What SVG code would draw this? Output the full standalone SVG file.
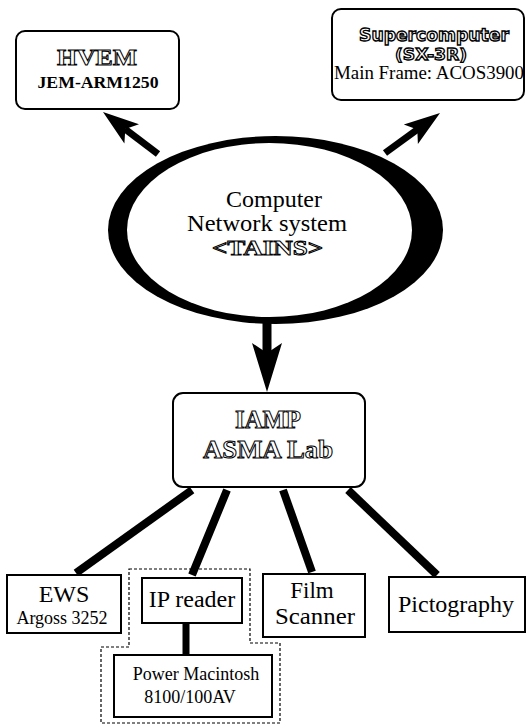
<svg xmlns="http://www.w3.org/2000/svg" width="527" height="724" viewBox="0 0 527 724">
<style>
.box{fill:#fff;stroke:#000;stroke-width:2}
.t{font-family:"Liberation Serif","Times New Roman",serif;fill:#000;text-anchor:middle}
.ol{font-family:"Liberation Serif","Times New Roman",serif;font-weight:bold;fill:#fff;stroke:#000;stroke-width:1;text-anchor:middle}
.ols{font-family:"DejaVu Sans","Liberation Sans",sans-serif;font-weight:bold;fill:#fff;stroke:#000;stroke-width:1.3;text-anchor:middle}
.link{stroke:#000;stroke-width:8;fill:none}
.head{fill:#000}
.dash{fill:none;stroke:#000;stroke-width:1.2;stroke-dasharray:3 2}
</style>
<rect width="527" height="724" fill="#fff"/>
<g id="connectors">
  <line class="link" x1="158" y1="154" x2="125" y2="129" style="stroke-width:7"/>
  <path class="head" d="M103,112 L139,124.2 L125.3,128.9 L124.4,143.4 Z"/>
  <line class="link" x1="385" y1="153" x2="418" y2="129" style="stroke-width:7"/>
  <path class="head" d="M440,113 L417.9,143.9 L417.3,129.5 L403.8,124.5 Z"/>
  <line class="link" x1="267" y1="318" x2="267" y2="355" style="stroke-width:9"/>
  <path class="head" d="M267,392 L252,343 L267,353 L282,343 Z"/>
  <line class="link" x1="192" y1="490" x2="76" y2="573"/>
  <line class="link" x1="227" y1="490" x2="192" y2="575"/>
  <line class="link" x1="283" y1="490" x2="312" y2="572"/>
  <line class="link" x1="348" y1="490" x2="437" y2="575"/>
  <line class="link" x1="186" y1="622" x2="186" y2="656" style="stroke-width:7"/>
</g>
<g id="group-ip">
  <path class="dash" d="M129,569 H250 V643 H280 V723 H101 V647 H129 Z"/>
</g>
<g id="network">
  <ellipse cx="275.5" cy="230" rx="167.5" ry="94" fill="#000"/>
  <ellipse cx="269.5" cy="230" rx="142.5" ry="87" fill="#fff"/>
  <text class="t" x="274" y="207" font-size="23" textLength="96" lengthAdjust="spacingAndGlyphs">Computer</text>
  <text class="t" x="267" y="231" font-size="23" textLength="160" lengthAdjust="spacingAndGlyphs">Network system</text>
  <text class="ol" x="267.5" y="255" font-size="22" textLength="111" lengthAdjust="spacingAndGlyphs">&lt;TAINS&gt;</text>
</g>
<g id="hvem">
  <rect class="box" x="16" y="31" width="163" height="78" rx="9"/>
  <text class="ol" x="97" y="65" font-size="24" textLength="80" lengthAdjust="spacingAndGlyphs">HVEM</text>
  <text class="t" x="98" y="88" font-size="17" font-weight="bold" textLength="121" lengthAdjust="spacingAndGlyphs">JEM-ARM1250</text>
</g>
<g id="supercomputer">
  <rect class="box" x="332" y="9" width="192" height="91" rx="9"/>
  <text class="ols" x="434" y="41" font-size="17" textLength="150" lengthAdjust="spacingAndGlyphs">Supercomputer</text>
  <text class="ols" x="431" y="60" font-size="16" textLength="72" lengthAdjust="spacingAndGlyphs">(SX-3R)</text>
  <text class="t" x="429" y="79" font-size="18" textLength="190" lengthAdjust="spacingAndGlyphs">Main Frame: ACOS3900</text>
</g>
<g id="iamp">
  <rect class="box" x="173" y="393" width="192" height="94" rx="10"/>
  <text class="ol" x="268" y="428" font-size="25" textLength="66" lengthAdjust="spacingAndGlyphs">IAMP</text>
  <text class="ol" x="268" y="458" font-size="26" textLength="130" lengthAdjust="spacingAndGlyphs">ASMA Lab</text>
</g>
<g id="ews">
  <rect class="box" x="7" y="575" width="114" height="58"/>
  <text class="t" x="64" y="602" font-size="24">EWS</text>
  <text class="t" x="62" y="624" font-size="18">Argoss 3252</text>
</g>
<g id="ip-reader">
  <rect class="box" x="142" y="578" width="100" height="45"/>
  <text class="t" x="192" y="607" font-size="24">IP reader</text>
</g>
<g id="power-mac">
  <rect class="box" x="114" y="655" width="158" height="62"/>
  <text class="t" x="196" y="680" font-size="18">Power Macintosh</text>
  <text class="t" x="190" y="703" font-size="18">8100/100AV</text>
</g>
<g id="film-scanner">
  <rect class="box" x="263" y="574" width="102" height="63"/>
  <text class="t" x="312" y="598" font-size="23">Film</text>
  <text class="t" x="315" y="624" font-size="23" textLength="80" lengthAdjust="spacingAndGlyphs">Scanner</text>
</g>
<g id="pictography">
  <rect class="box" x="389" y="577" width="136" height="55"/>
  <text class="t" x="456" y="612" font-size="24">Pictography</text>
</g>
</svg>
